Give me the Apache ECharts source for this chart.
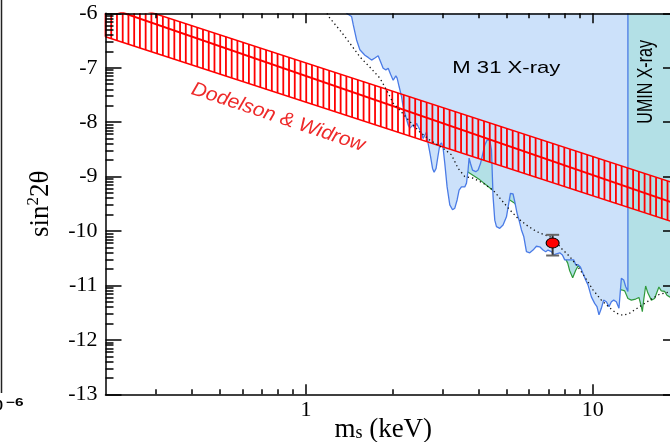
<!DOCTYPE html>
<html>
<head>
<meta charset="utf-8">
<script src="https://cdn.jsdelivr.net/npm/echarts@6/dist/echarts.min.js"></script>
<style>
  html, body { margin: 0; padding: 0; background: #fff; }
  #c { width: 670px; height: 442px; }
</style>
</head>
<body>
<div id="c"></div>
<script>
// Sterile-neutrino mixing angle limits, log10(sin^2 2theta) against mass m_s (keV)

// M 31 X-ray upper limit (excluded above the curve)
const m31Mass = [1.384,1.443,1.462,1.502,1.542,1.606,1.648,1.694,1.740,1.786,1.821,1.859,1.900,1.936,1.973,2.015,2.059,2.080,2.114,2.155,2.183,2.231,2.273,2.304,2.366,2.398,2.431,2.462,2.530,2.563,2.598,2.634,2.668,2.720,2.764,2.799,2.844,2.884,2.930,2.971,3.009,3.050,3.107,3.175,3.245,3.305,3.367,3.421,3.487,3.581,3.630,3.677,3.707,3.749,3.810,3.912,3.985,4.062,4.128,4.205,4.283,4.377,4.437,4.494,4.556,4.618,4.742,4.869,5.004,5.109,5.167,5.276,5.349,5.448,5.536,5.644,5.749,5.875,6.033,6.194,6.365,6.536,6.712,6.859,6.987,7.180,7.314,7.474,7.675,7.843,7.989,8.203,8.430,8.587,8.726,8.888,9.061,9.252,9.454,9.631,9.896,10.16,10.35,10.52,10.72,10.92,11.16,11.40,11.62,11.84,12.09,12.35,12.59,12.83,13.03,13.27,13.27];
const m31Limit = [-6.00,-6.06,-6.21,-6.49,-6.67,-6.77,-6.81,-6.86,-6.82,-6.78,-6.89,-7.01,-7.04,-7.01,-7.12,-7.23,-7.15,-7.19,-7.35,-7.53,-7.72,-7.90,-8.05,-8.11,-8.05,-8.11,-8.02,-8.08,-8.20,-8.30,-8.24,-8.18,-8.39,-8.63,-8.85,-8.92,-8.85,-8.64,-8.42,-8.38,-8.48,-8.76,-9.19,-9.52,-9.61,-9.58,-9.43,-9.25,-9.19,-9.19,-9.12,-8.88,-8.66,-8.76,-8.88,-8.91,-8.88,-8.76,-8.60,-8.42,-8.33,-8.33,-8.51,-9.37,-9.80,-9.92,-9.95,-9.89,-9.74,-9.46,-9.31,-9.32,-9.46,-9.67,-9.80,-9.98,-10.10,-10.38,-10.40,-10.35,-10.28,-10.29,-10.35,-10.38,-10.35,-10.38,-10.44,-10.42,-10.40,-10.44,-10.53,-10.53,-10.53,-10.53,-10.62,-10.62,-10.66,-10.78,-10.90,-10.99,-11.21,-11.33,-11.39,-11.54,-11.42,-11.27,-11.30,-11.39,-11.30,-11.27,-11.30,-11.42,-10.87,-10.90,-11.02,-11.11,-6.00];

// UMIN X-ray upper limit
const uminMass = [3.496,3.638,4.041,4.483,4.779,5.138,5.349,5.655,6.131,6.804,7.431,7.989,8.183,8.315,8.518,8.726,8.902,9.379,10.16,11.01,11.84,12.32,12.59,12.93,13.27,13.64,14.12,14.50,14.78,14.90,15.06,15.30,15.58,16.02,16.44,17.02,17.35,17.82,18.15,18.55,20.0];
const uminLimit = [-8.81,-8.90,-9.06,-9.25,-9.34,-9.43,-9.49,-9.65,-9.83,-10.09,-10.29,-10.48,-10.59,-10.73,-10.86,-10.72,-10.64,-10.75,-10.95,-11.05,-11.10,-11.12,-11.08,-11.10,-11.24,-11.27,-11.25,-11.22,-11.39,-11.48,-11.27,-11.01,-11.14,-11.27,-11.24,-11.03,-11.10,-11.11,-11.18,-11.21,-11.27];

// Smoothed limit (dotted)
const smoothMass = [1.184,1.212,1.314,1.423,1.542,1.671,1.811,1.911,2.015,2.126,2.304,2.496,2.704,3.009,3.219,3.394,3.581,3.829,4.148,4.494,4.807,5.138,5.492,5.875,6.365,6.804,7.273,7.781,8.315,8.888,9.379,10.02,10.72,11.46,12.09,12.76,13.45,14.58,15.80,17.12,18.55,20.0];
const smoothLimit = [-6.00,-6.09,-6.31,-6.55,-6.80,-6.99,-7.19,-7.41,-7.65,-7.78,-7.99,-8.18,-8.33,-8.48,-8.60,-8.85,-9.00,-9.03,-9.12,-9.25,-9.43,-9.61,-9.77,-9.89,-10.01,-10.07,-10.13,-10.32,-10.47,-10.66,-10.84,-11.08,-11.27,-11.41,-11.51,-11.55,-11.51,-11.39,-11.27,-11.16,-11.12,-11.09];

// Dodelson & Widrow production band
const bandMass = [0.2, 20];
const bandHigh = [-5.71, -9.15];
const bandMid = [-5.88, -9.52];
const bandLow = [-6.43, -9.87];

// Line detection with error bar
const lineMass = [7.25];
const lineValue = [-10.22];
const lineErrHigh = [-10.07];
const lineErrLow = [-10.45];

// Axes
const massRange = [0.2, 20];
const yRange = [-13, -6];
const xTickLabels = [1, 10];
const yTickLabels = [-13, -12, -11, -10, -9, -8, -7, -6];

const lg = Math.log10;
const pairs = (ms, vs) => ms.map((m, i) => [lg(m), vs[i]]);

const SERIF = 'Liberation Serif';
const SANS = 'Liberation Sans';

const xMin = lg(massRange[0]), xMax = lg(massRange[1]);
const xMajor = xTickLabels.map(lg);
const xMinor = [];
for (let d = Math.floor(xMin); d < Math.ceil(xMax); d++) {
  for (let k = 2; k <= 9; k++) {
    const t = d + lg(k);
    if (t > xMin + 1e-6 && t < xMax - 1e-6) xMinor.push(t);
  }
}
const yMajor = yTickLabels.slice();
const yMinor = [];
for (let d = yRange[0]; d < yRange[1]; d++) {
  for (let k = 2; k <= 9; k++) yMinor.push(d + lg(k));
}

const black = { color: '#000', width: 1.5 };

function xAxisDef(pos, major) {
  return {
    type: 'value', position: pos, min: xMin, max: xMax, z: 10,
    axisLine: { show: major, onZero: false, lineStyle: black },
    axisTick: { show: true, inside: true, length: major ? 10 : 5,
      customValues: major ? xMajor : xMinor, lineStyle: black },
    axisLabel: { show: major && pos === 'bottom', customValues: xMajor, margin: 5,
      formatter: v => String(Math.round(Math.pow(10, v))),
      color: '#000', fontFamily: SERIF, fontSize: 22 },
    splitLine: { show: false }
  };
}
function yAxisDef(pos, major) {
  return {
    type: 'value', position: pos, min: yRange[0], max: yRange[1], z: 10,
    axisLine: { show: major, onZero: false, lineStyle: black },
    axisTick: { show: true, inside: true, length: major ? 16 : 8,
      customValues: major ? yMajor : yMinor, lineStyle: black },
    axisLabel: { show: major && pos === 'left', customValues: yMajor, margin: 8,
      formatter: v => String(v), color: '#000', fontFamily: SERIF, fontSize: 22 },
    splitLine: { show: false }
  };
}

const xBottom = xAxisDef('bottom', true);
Object.assign(xBottom, {
  name: '{m|m}{s|s}{m| (keV)}', nameLocation: 'middle', nameGap: 22, nameMoveOverlap: false,
  nameTextStyle: { color: '#000', fontFamily: SERIF, fontSize: 27, padding: [0, 18, 0, 0],
    rich: {
      m: { fontFamily: SERIF, fontSize: 27, color: '#000', verticalAlign: 'bottom' },
      s: { fontFamily: SERIF, fontSize: 18, color: '#000', verticalAlign: 'bottom', padding: [0, 0, 1, 0] }
    } }
});
const yLeft = yAxisDef('left', true);
Object.assign(yLeft, {
  name: '{a|sin}{b|2}{a|2θ}', nameLocation: 'middle', nameRotate: 90, nameGap: 51, nameMoveOverlap: false,
  nameTextStyle: { color: '#000', fontFamily: SERIF, fontSize: 27,
    rich: {
      a: { fontFamily: SERIF, fontSize: 27, color: '#000', verticalAlign: 'bottom' },
      b: { fontFamily: SERIF, fontSize: 17, color: '#000', verticalAlign: 'bottom', padding: [0, 0, 12, 0] }
    } }
});

// vertical hatching of the production band
function renderHatch(params, api) {
  const cs = params.coordSys;
  const x0 = lg(bandMass[0]), x1 = lg(bandMass[1]);
  const hiA = api.coord([x0, bandHigh[0]]), hiB = api.coord([x1, bandHigh[1]]);
  const loA = api.coord([x0, bandLow[0]]), loB = api.coord([x1, bandLow[1]]);
  const step = 0.02; // spacing in decades of mass
  const n = Math.round((x1 - x0) / step);
  const children = [];
  for (let i = 0; i <= n; i++) {
    const f = i / n;
    const px = hiA[0] + f * (hiB[0] - hiA[0]);
    if (px < cs.x || px > cs.x + cs.width) continue;
    const yHi = Math.max(cs.y, hiA[1] + f * (hiB[1] - hiA[1]));
    const yLo = Math.min(cs.y + cs.height, loA[1] + f * (loB[1] - loA[1]));
    children.push({ type: 'line', shape: { x1: px, y1: yHi, x2: px, y2: yLo },
      style: { stroke: '#ff0000', lineWidth: 1.8 } });
  }
  return { type: 'group', children };
}

function renderErrorBar(params, api) {
  const x = api.value(0);
  const hi = api.coord([x, api.value(2)]);
  const lo = api.coord([x, api.value(3)]);
  const cap = 6.5;
  return { type: 'group', children: [
    { type: 'line', shape: { x1: hi[0], y1: hi[1], x2: lo[0], y2: lo[1] }, style: { stroke: '#333', lineWidth: 2 } },
    { type: 'line', shape: { x1: hi[0] - cap, y1: hi[1], x2: hi[0] + cap, y2: hi[1] }, style: { stroke: '#666', lineWidth: 2 } },
    { type: 'line', shape: { x1: lo[0] - cap, y1: lo[1], x2: lo[0] + cap, y2: lo[1] }, style: { stroke: '#666', lineWidth: 2 } }
  ] };
}

const bandLine = (vals, w) => ({
  type: 'line', data: pairs(bandMass, vals), symbol: 'none', silent: true, z: 5,
  lineStyle: { color: '#ff0000', width: w }
});

const option = {
  animation: false,
  backgroundColor: '#fff',
  grid: { left: 105.5, right: -9, top: 13.3, bottom: 47.7, containLabel: false, outerBoundsMode: 'none' },
  xAxis: [xBottom, xAxisDef('bottom', false), xAxisDef('top', true), xAxisDef('top', false)],
  yAxis: [yLeft, yAxisDef('left', false), yAxisDef('right', true), yAxisDef('right', false)],
  series: [
    { name: 'UMIN X-ray', type: 'line', data: pairs(uminMass, uminLimit), symbol: 'none', z: 2,
      lineStyle: { color: '#2f9a3c', width: 1.2 },
      areaStyle: { color: '#b3e0e6', opacity: 1, origin: 'end' } },
    { name: 'M 31 X-ray', type: 'line', data: pairs(m31Mass, m31Limit), symbol: 'none', z: 3,
      lineStyle: { color: '#4a7be6', width: 1.3 },
      areaStyle: { color: '#cce1fa', opacity: 1, origin: 'end' } },
    { type: 'custom', renderItem: renderHatch, data: [[lg(bandMass[0])]], z: 4, silent: true },
    bandLine(bandHigh, 1.5), bandLine(bandLow, 1.5), bandLine(bandMid, 2),
    { type: 'line', data: pairs(smoothMass, smoothLimit), symbol: 'none', z: 6,
      lineStyle: { color: '#111', width: 1.3, type: [1.3, 3] } },
    { type: 'custom', renderItem: renderErrorBar, z: 7,
      data: lineMass.map((m, i) => [lg(m), lineValue[i], lineErrHigh[i], lineErrLow[i]]) },
    { type: 'scatter', data: pairs(lineMass, lineValue), z: 8, symbol: 'circle', symbolSize: [13, 10],
      itemStyle: { color: '#ff0000', borderColor: '#000', borderWidth: 1, opacity: 1 } }
  ]
};

const chart = echarts.init(document.getElementById('c'), null, { renderer: 'canvas', width: 670, height: 442 });
chart.setOption(option);

// region and band annotations anchored in data coordinates
const at = (m, v) => chart.convertToPixel({ seriesIndex: 1 }, [lg(m), v]);
const pM31 = at(5.0, -7.01);
const pUmin = at(15.39, -7.26);
const pDW = at(0.80, -7.91);

chart.setOption({
  graphic: [
    { type: 'text', x: pM31[0], y: pM31[1], scaleX: 1.3, z: 20,
      style: { text: 'M 31 X-ray', fill: '#000', font: '17px "Liberation Sans"', align: 'center', verticalAlign: 'middle', textAlign: 'center', textVerticalAlign: 'middle' } },
    { type: 'text', x: pUmin[0], y: pUmin[1], rotation: Math.PI / 2, scaleY: 1.35, z: 20,
      style: { text: 'UMIN X-ray', fill: '#000', font: '16px "Liberation Sans"', align: 'center', verticalAlign: 'middle', textAlign: 'center', textVerticalAlign: 'middle' } },
    { type: 'text', x: pDW[0], y: pDW[1], rotation: -18.5 * Math.PI / 180, scaleX: 1.15, scaleY: 1.1, z: 20,
      style: { text: 'Dodelson & Widrow', fill: '#ee2a2a', font: 'italic 18px "Liberation Sans"', align: 'center', verticalAlign: 'middle', textAlign: 'center', textVerticalAlign: 'middle' } },
    // edge of the neighbouring panel
    { type: 'line', shape: { x1: 1.5, y1: 0, x2: 1.5, y2: 393 }, style: { stroke: '#222', lineWidth: 1.5 }, z: 20 },
    { type: 'text', x: 3, y: 406, z: 20,
      style: { text: '0', fill: '#000', font: 'bold 14px "Liberation Sans"', align: 'right', verticalAlign: 'middle', textAlign: 'right', textVerticalAlign: 'middle' } },
    { type: 'text', x: 6, y: 403, scaleX: 1.4, z: 20,
      style: { text: '−6', fill: '#000', font: 'bold 11px "Liberation Sans"', align: 'left', verticalAlign: 'middle', textAlign: 'left', textVerticalAlign: 'middle' } }
  ]
});
</script>
</body>
</html>
